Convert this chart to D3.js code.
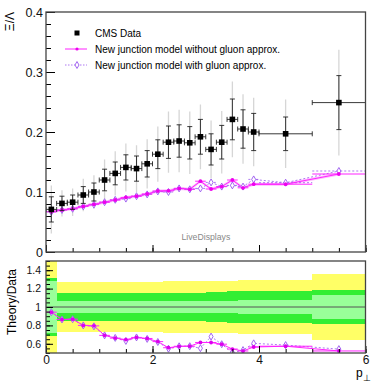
<!DOCTYPE html>
<html>
<head>
<meta charset="utf-8">
<script src="https://cdn.jsdelivr.net/npm/d3@7"></script>
<style>
body { margin: 0; background: #fff; }
text { font-family: "Liberation Sans", Arial, sans-serif; }
</style>
</head>
<body>
<div class="container"></div>
<script>
// bins (p_perp)
const binLo = [0,0.2,0.4,0.6,0.8,1.0,1.2,1.4,1.6,1.8,2.0,2.2,2.4,2.6,2.8,3.0,3.2,3.4,3.6,3.8,4.0,5.0];
const binHi = [0.2,0.4,0.6,0.8,1.0,1.2,1.4,1.6,1.8,2.0,2.2,2.4,2.6,2.8,3.0,3.2,3.4,3.6,3.8,4.0,5.0,6.0];

// CMS data, Xi/Lambda
const dataVal  = [0.071,0.081,0.083,0.095,0.100,0.120,0.131,0.141,0.139,0.147,0.163,0.183,0.185,0.182,0.192,0.171,0.183,0.221,0.205,0.200,0.197,0.249];
const dataStat = [0.021,0.012,0.012,0.014,0.015,0.018,0.019,0.021,0.021,0.022,0.024,0.027,0.027,0.027,0.029,0.026,0.028,0.034,0.032,0.031,0.028,0.045];
const dataTot  = [0.040,0.022,0.023,0.027,0.028,0.034,0.037,0.040,0.039,0.041,0.046,0.051,0.052,0.052,0.054,0.048,0.052,0.063,0.058,0.057,0.057,0.088];

// models
const noGluon   = [0.067,0.070,0.072,0.076,0.0795,0.083,0.0867,0.091,0.093,0.0967,0.1017,0.102,0.106,0.1045,0.118,0.105,0.109,0.120,0.107,0.113,0.113,0.130];
const withGluon = [0.067,0.070,0.072,0.076,0.079,0.083,0.087,0.089,0.093,0.096,0.101,0.100,0.106,0.1045,0.106,0.116,0.109,0.111,0.109,0.121,0.1155,0.135];

// ratio bands (relative half widths)
const bandYellow = [0.60,0.275,0.275,0.275,0.275,0.275,0.275,0.275,0.275,0.275,0.275,0.278,0.28,0.28,0.282,0.284,0.286,0.288,0.29,0.29,0.29,0.36];
const bandGreen  = [0.31,0.147,0.147,0.147,0.147,0.147,0.147,0.147,0.147,0.147,0.15,0.15,0.15,0.15,0.155,0.16,0.165,0.17,0.177,0.177,0.177,0.18];
const bandLight  = [0.28,0.06,0.06,0.06,0.06,0.06,0.06,0.06,0.06,0.06,0.06,0.06,0.06,0.06,0.065,0.065,0.07,0.07,0.074,0.074,0.074,0.13];

const mainTicks = [0,0.1,0.2,0.3,0.4];
const ratioTicks = [0.6,0.8,1,1.2,1.4];
const xTicks = [0,2,4,6];

const w = 374, h = 387;
const left = 46, right = 365.5;
const mainTop = 12, mainBot = 252;
const ratTop = 261, ratBot = 353;

const svg = d3.select(".container").append("svg")
  .attr("width", w).attr("height", h)
  .style("background", "white");

const x = d3.scaleLinear().domain([0, 6]).range([left, right]);
const y = d3.scaleLinear().domain([0, 0.4]).range([mainBot, mainTop]);
const yr = d3.scaleLinear().domain([0.5, 1.5]).range([ratBot, ratTop]);

const bins = dataVal.map((v, i) => ({
  lo: binLo[i], hi: binHi[i], c: (binLo[i] + binHi[i]) / 2,
  v: v, st: dataStat[i], tot: dataTot[i],
  a: noGluon[i], b: withGluon[i],
  ra: noGluon[i] / v, rb: withGluon[i] / v,
  by: bandYellow[i], bg: bandGreen[i], bl: bandLight[i]
}));

const defs = svg.append("defs");
defs.append("clipPath").attr("id", "clipMain").append("rect")
  .attr("x", left).attr("y", mainTop).attr("width", right - left).attr("height", mainBot - mainTop);
defs.append("clipPath").attr("id", "clipRat").append("rect")
  .attr("x", left).attr("y", ratTop).attr("width", right - left).attr("height", ratBot - ratTop);

const magenta = "#ff22ff";
const violet = "#9955ee";

// ---------- main panel ----------
const gm = svg.append("g").attr("clip-path", "url(#clipMain)");

// total error (grey)
gm.selectAll(".tot").data(bins).enter().append("line")
  .attr("x1", d => x(d.c)).attr("x2", d => x(d.c))
  .attr("y1", d => y(d.v - d.tot)).attr("y2", d => y(d.v + d.tot))
  .attr("stroke", "#d6d6d6").attr("stroke-width", 1.3);

// MC band for model without gluon
gm.append("path").datum(bins)
  .attr("d", d3.area().x(d => x(d.c)).y0(d => y(d.a - 0.0025)).y1(d => y(d.a + 0.0025)))
  .attr("fill", "#ffaaff").attr("opacity", 0.8);

// model lines
gm.append("path").datum(bins)
  .attr("d", d3.line().x(d => x(d.c)).y(d => y(d.b)))
  .attr("fill", "none").attr("stroke", violet).attr("stroke-width", 0.8).attr("stroke-dasharray", "2,2");
gm.selectAll(".bxb").data(bins).enter().append("line")
  .attr("x1", d => x(d.lo)).attr("x2", d => x(d.hi))
  .attr("y1", d => y(d.b)).attr("y2", d => y(d.b))
  .attr("stroke", violet).attr("stroke-width", 0.8).attr("stroke-dasharray", "2,2");
gm.append("path").datum(bins)
  .attr("d", d3.line().x(d => x(d.c)).y(d => y(d.a)))
  .attr("fill", "none").attr("stroke", magenta).attr("stroke-width", 1);
gm.selectAll(".axb").data(bins).enter().append("line")
  .attr("x1", d => x(d.lo)).attr("x2", d => x(d.hi))
  .attr("y1", d => y(d.a)).attr("y2", d => y(d.a))
  .attr("stroke", magenta).attr("stroke-width", 1);

gm.selectAll(".dia").data(bins).enter().append("path")
  .attr("d", d3.symbol(d3.symbolDiamond, 14))
  .attr("transform", d => `translate(${x(d.c)},${y(d.b)})`)
  .attr("fill", "white").attr("stroke", violet).attr("stroke-width", 0.9);
gm.selectAll(".dot").data(bins).enter().append("circle")
  .attr("cx", d => x(d.c)).attr("cy", d => y(d.a)).attr("r", 1.9)
  .attr("fill", "#ee00ee");

// stat errors (black) with caps
const cap = 2.5;
gm.selectAll(".st").data(bins).enter().append("path")
  .attr("d", d => {
    const cx = x(d.c), y1 = y(d.v - d.st), y2 = y(d.v + d.st);
    return `M${cx},${y1}V${y2}M${cx - cap},${y1}H${cx + cap}M${cx - cap},${y2}H${cx + cap}`;
  })
  .attr("stroke", "#222").attr("stroke-width", 0.9).attr("fill", "none");
gm.selectAll(".xe").data(bins).enter().append("path")
  .attr("d", d => {
    const cy = y(d.v), x1 = x(d.lo), x2 = x(d.hi);
    return `M${x1},${cy}H${x2}M${x1},${cy - cap}V${cy + cap}M${x2},${cy - cap}V${cy + cap}`;
  })
  .attr("stroke", "#222").attr("stroke-width", 0.9).attr("fill", "none");
gm.selectAll(".sq").data(bins).enter().append("rect")
  .attr("x", d => x(d.c) - 2.8).attr("y", d => y(d.v) - 2.8)
  .attr("width", 5.6).attr("height", 5.6).attr("fill", "black");

// main axes
const yMinor = d3.range(0, 0.4001, 0.02);
svg.append("g").attr("transform", `translate(${left},0)`)
  .call(d3.axisLeft(y).tickValues(yMinor).tickSize(-5).tickFormat(""))
  .call(g => g.select(".domain").remove());
svg.append("g").attr("transform", `translate(${left},0)`)
  .call(d3.axisLeft(y).tickValues(mainTicks).tickSize(-9).tickPadding(3)
    .tickFormat(d => d === 0 ? "0" : d.toFixed(1)))
  .call(g => g.select(".domain").remove())
  .call(g => g.selectAll("text").style("font-size", "12.5px").attr("fill", "#111"));
svg.append("g").attr("transform", `translate(0,${mainBot})`)
  .call(d3.axisBottom(x).tickValues(d3.range(0, 6.01, 0.5)).tickSize(-4).tickFormat(""))
  .call(g => g.select(".domain").remove());
svg.append("g").attr("transform", `translate(0,${mainBot})`)
  .call(d3.axisBottom(x).tickValues(xTicks).tickSize(-7).tickFormat(""))
  .call(g => g.select(".domain").remove());

svg.append("rect").attr("x", left).attr("y", mainTop)
  .attr("width", right - left).attr("height", mainBot - mainTop)
  .attr("fill", "none").attr("stroke", "#444").attr("stroke-width", 1.3);

// legend
svg.append("rect").attr("x", 74.5).attr("y", 30.5).attr("width", 5).attr("height", 5).attr("fill", "black");
svg.append("text").attr("x", 95).attr("y", 36.5).text("CMS Data").style("font-size", "10px");
svg.append("line").attr("x1", 65).attr("x2", 87).attr("y1", 49).attr("y2", 49)
  .attr("stroke", magenta).attr("stroke-width", 1);
svg.append("circle").attr("cx", 77).attr("cy", 49).attr("r", 1.6).attr("fill", "#ee00ee");
svg.append("text").attr("x", 95).attr("y", 52.5).text("New junction model without gluon approx.").style("font-size", "10px");
svg.append("line").attr("x1", 65).attr("x2", 87).attr("y1", 65).attr("y2", 65)
  .attr("stroke", violet).attr("stroke-width", 0.8).attr("stroke-dasharray", "1.5,1.5");
svg.append("path").attr("d", d3.symbol(d3.symbolDiamond, 14))
  .attr("transform", "translate(77,65)")
  .attr("fill", "white").attr("stroke", violet).attr("stroke-width", 0.9);
svg.append("text").attr("x", 95).attr("y", 68.5).text("New junction model with gluon approx.").style("font-size", "10px");

svg.append("text").attr("x", 181.5).attr("y", 239.5).text("LiveDisplays")
  .style("font-size", "8.7px").attr("fill", "#888");

svg.append("text").attr("transform", "translate(14,12) rotate(-90)")
  .attr("text-anchor", "end").text("Ξ/Λ").style("font-size", "12px");

// ---------- ratio panel ----------
const gr = svg.append("g").attr("clip-path", "url(#clipRat)");
const bands = [["by", "#ffff66"], ["bg", "#33ee33"], ["bl", "#99ff99"]];
bands.forEach(([k, col]) => {
  gr.selectAll(".b" + k).data(bins).enter().append("rect")
    .attr("x", d => x(d.lo)).attr("width", d => x(d.hi) - x(d.lo))
    .attr("y", d => yr(1 + d[k])).attr("height", d => yr(1 - d[k]) - yr(1 + d[k]))
    .attr("fill", col).attr("shape-rendering", "crispEdges");
});
gr.append("line").attr("x1", left).attr("x2", right).attr("y1", yr(1)).attr("y2", yr(1))
  .attr("stroke", "#555").attr("stroke-width", 1);

gr.append("path").datum(bins)
  .attr("d", d3.line().x(d => x(d.c)).y(d => yr(d.rb)))
  .attr("fill", "none").attr("stroke", violet).attr("stroke-width", 0.8).attr("stroke-dasharray", "2,2");
gr.append("path").datum(bins)
  .attr("d", d3.line().x(d => x(d.c)).y(d => yr(d.ra)))
  .attr("fill", "none").attr("stroke", magenta).attr("stroke-width", 1);
gr.selectAll(".rxa").data(bins).enter().append("line")
  .attr("x1", d => x(d.lo)).attr("x2", d => x(d.hi))
  .attr("y1", d => yr(d.ra)).attr("y2", d => yr(d.ra))
  .attr("stroke", magenta).attr("stroke-width", 1);
gr.selectAll(".rdia").data(bins).enter().append("path")
  .attr("d", d3.symbol(d3.symbolDiamond, 14))
  .attr("transform", d => `translate(${x(d.c)},${yr(d.rb)})`)
  .attr("fill", "white").attr("stroke", violet).attr("stroke-width", 0.9);
gr.selectAll(".rdot").data(bins).enter().append("circle")
  .attr("cx", d => x(d.c)).attr("cy", d => yr(d.ra)).attr("r", 1.9)
  .attr("fill", "#dd00ee");

svg.append("g").attr("transform", `translate(${left},0)`)
  .call(d3.axisLeft(yr).tickValues(d3.range(0.5, 1.5001, 0.05)).tickSize(-4).tickFormat(""))
  .call(g => g.select(".domain").remove());
svg.append("g").attr("transform", `translate(${left},0)`)
  .call(d3.axisLeft(yr).tickValues(ratioTicks).tickSize(-7).tickPadding(5)
    .tickFormat(d => d === 1 ? "1" : d.toFixed(1)))
  .call(g => g.select(".domain").remove())
  .call(g => g.selectAll("text").style("font-size", "10.5px").attr("fill", "#111"));
svg.append("g").attr("transform", `translate(0,${ratBot})`)
  .call(d3.axisBottom(x).tickValues(d3.range(0, 6.01, 0.5)).tickSize(-4).tickFormat(""))
  .call(g => g.select(".domain").remove());
svg.append("g").attr("transform", `translate(0,${ratBot})`)
  .call(d3.axisBottom(x).tickValues(xTicks).tickSize(-7).tickPadding(2).tickFormat(d3.format("d")))
  .call(g => g.select(".domain").remove())
  .call(g => g.selectAll("text").attr("y", 2).style("font-size", "12px").attr("fill", "#111"));

svg.append("rect").attr("x", left).attr("y", ratTop)
  .attr("width", right - left).attr("height", ratBot - ratTop)
  .attr("fill", "none").attr("stroke", "#444").attr("stroke-width", 1.3);

svg.append("text").attr("transform", "translate(16,302) rotate(-90)")
  .attr("text-anchor", "middle").text("Theory/Data").style("font-size", "12px");

const xl = svg.append("text").attr("x", 356).attr("y", 377).style("font-size", "12px");
xl.append("tspan").text("p");
xl.append("tspan").attr("dy", 4).style("font-size", "9px").text("⊥");
</script>
</body>
</html>
